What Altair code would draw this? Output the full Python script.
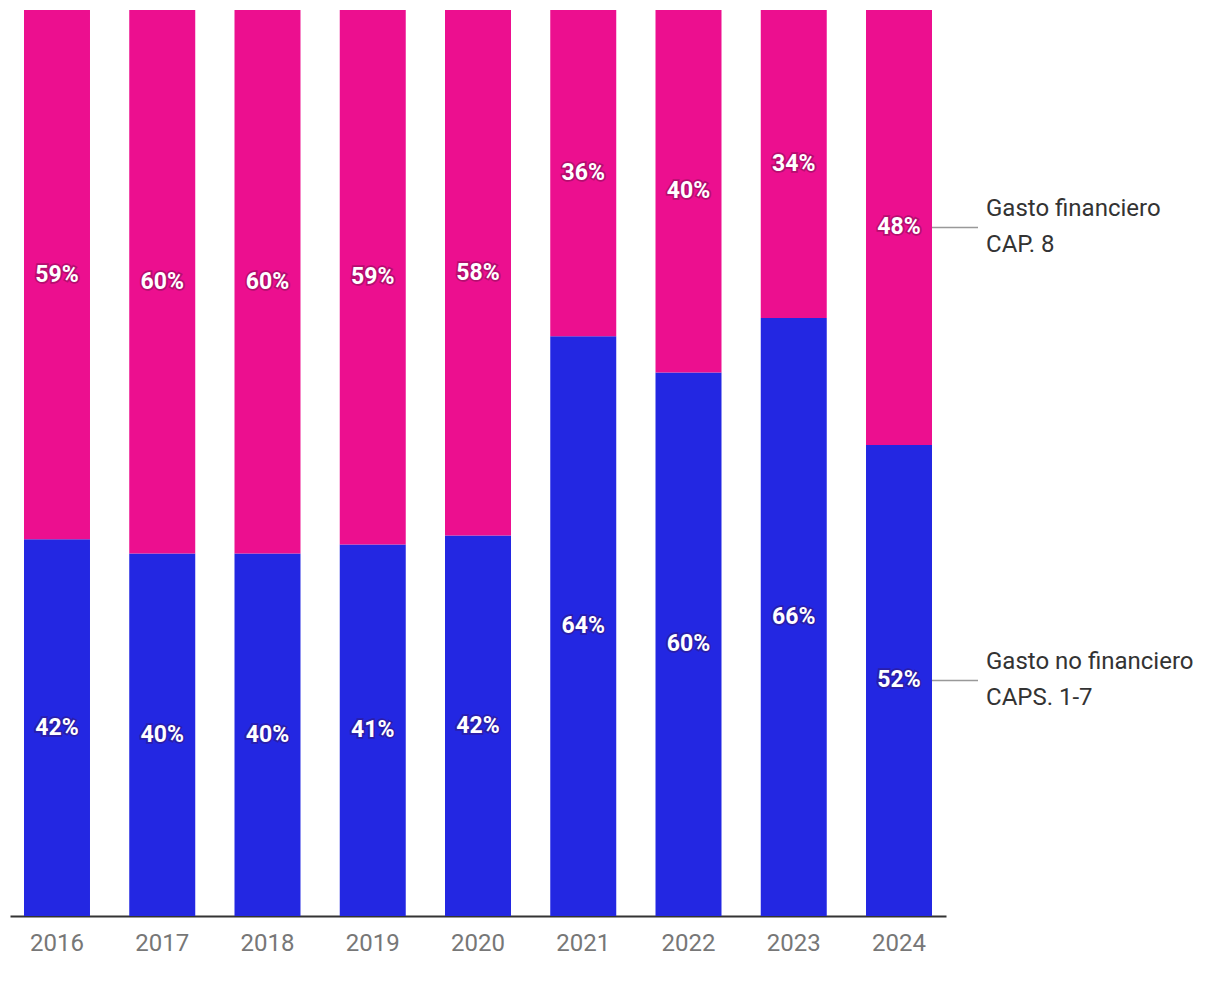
import altair as alt
import pandas as pd

years = ["2016", "2017", "2018", "2019", "2020", "2021", "2022", "2023", "2024"]
no_financiero = [42, 40, 40, 41, 42, 64, 60, 66, 52]
financiero = [59, 60, 60, 59, 58, 36, 40, 34, 48]
series_names = ["Gasto no financiero\nCAPS. 1-7", "Gasto financiero\nCAP. 8"]
series_keys = ["nofin", "fin"]

rows = []
for i, y in enumerate(years):
    rows.append({"year": y, "serie": series_keys[0], "name": series_names[0], "value": no_financiero[i], "order": 0})
    rows.append({"year": y, "serie": series_keys[1], "name": series_names[1], "value": financiero[i], "order": 1})
df = pd.DataFrame(rows)

FONT = "Roboto"

base = alt.Chart(df).transform_stack(
    stack="value", groupby=["year"], as_=["v0", "v1"], offset="normalize",
    sort=[alt.SortField("order", order="ascending")]
).transform_calculate(mid="(datum.v0 + datum.v1) / 2")

xenc = alt.X("year:N", sort=years, title=None,
             scale=alt.Scale(paddingInner=0.373, paddingOuter=0.133),
             axis=alt.Axis(ticks=False, labelPadding=15, labelFontSize=24, labelFont=FONT,
                           labelColor="#777777", domainColor="#333333", domainWidth=2,
                           labelAngle=0))
yscale = alt.Scale(domain=[0, 1], nice=False)

bars = base.mark_bar().encode(
    x=xenc,
    y=alt.Y("v0:Q", scale=yscale, axis=None),
    y2="v1:Q",
    color=alt.Color("serie:N", scale=alt.Scale(domain=series_keys, range=["#2327e2", "#ec0f8f"]), legend=None),
)

shadow = base.mark_text(font=FONT, fontSize=23, fontWeight="bold", color="#3a0a2a",
                        stroke="#3a0a2a", strokeWidth=3.5, opacity=0.3).encode(
    x=alt.X("year:N", sort=years),
    y=alt.Y("mid:Q", scale=yscale),
    text=alt.Text("label:N"),
).transform_calculate(label="datum.value + '%'")

labels = base.mark_text(font=FONT, fontSize=23, fontWeight="bold", color="white").encode(
    x=alt.X("year:N", sort=years),
    y=alt.Y("mid:Q", scale=yscale),
    text=alt.Text("label:N"),
).transform_calculate(label="datum.value + '%'")

last = base.transform_filter(alt.datum.year == years[-1])

rules = last.mark_rule(color="#999999", strokeWidth=1.5, xOffset=33, x2Offset=79).encode(
    x=alt.X("year:N", sort=years),
    x2=alt.X2("year:N"),
    y=alt.Y("mid:Q", scale=yscale),
)

legend_text = last.mark_text(font=FONT, fontSize=24, color="#333333", align="left",
                             baseline="middle", dx=87, dy=-18, lineBreak="\n", lineHeight=36).encode(
    x=alt.X("year:N", sort=years),
    y=alt.Y("mid:Q", scale=yscale),
    text="name:N",
)

chart = alt.layer(bars, shadow, labels, rules, legend_text).properties(
    width=936, height=906,
    autosize=alt.AutoSizeParams(type="none"),
    padding={"left": 2, "top": 2, "right": 260, "bottom": 58},
).configure_view(stroke=None)

chart.save("out.html", embed_options={"renderer": "svg", "actions": False})
